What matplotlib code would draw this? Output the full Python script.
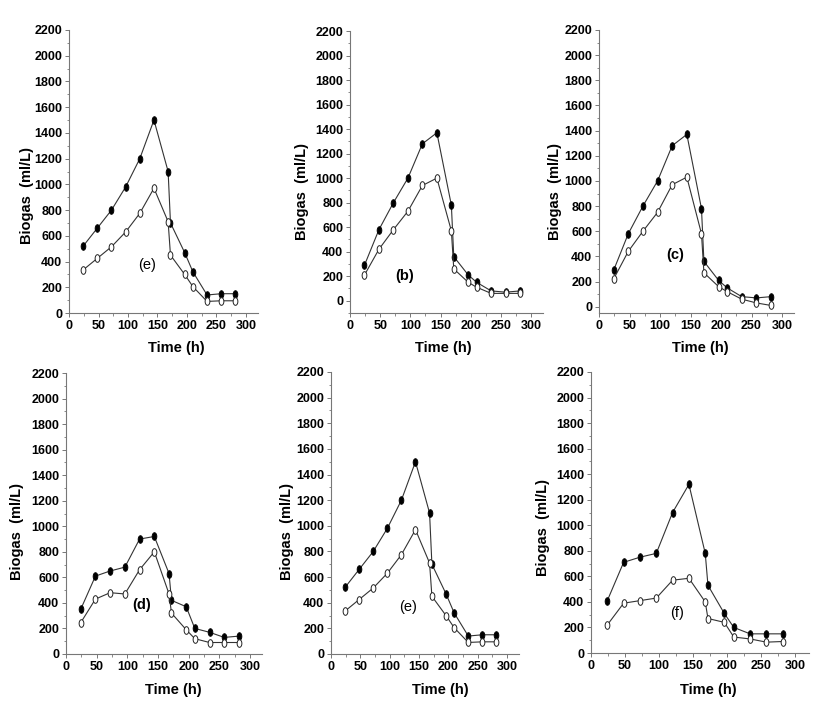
import numpy as np
import matplotlib.pyplot as plt
from matplotlib.path import Path
from matplotlib.ticker import MultipleLocator

plt.rcParams['font.family'] = ['Liberation Sans', 'DejaVu Sans']

# sampling times (h)
time_h = [24, 48, 72, 96, 120, 144, 168, 172, 196, 210, 234, 258, 282]

# biogas (ml/L), filled = closed circles, empty = open circles
e_filled = [520, 660, 800, 980, 1200, 1500, 1100, 700, 470, 320, 140, 150, 150]
e_open = [335, 425, 515, 630, 775, 970, 710, 450, 300, 205, 90, 95, 95]

b_filled = [290, 580, 800, 1000, 1280, 1370, 780, 360, 210, 150, 80, 70, 80]
b_open = [210, 420, 580, 730, 940, 1000, 570, 260, 150, 110, 60, 60, 60]

c_filled = [290, 580, 800, 1000, 1280, 1370, 780, 360, 210, 150, 80, 70, 80]
c_open = [220, 440, 600, 750, 970, 1030, 580, 270, 160, 120, 60, 30, 10]

d_filled = [350, 610, 650, 680, 900, 920, 630, 420, 370, 200, 170, 130, 140]
d_open = [245, 430, 480, 470, 660, 800, 470, 320, 190, 120, 90, 90, 90]

f_filled = [410, 710, 750, 780, 1100, 1320, 780, 530, 310, 200, 150, 150, 150]
f_open = [220, 390, 410, 430, 570, 585, 400, 270, 240, 125, 110, 85, 90]

panels = [
    # label, filled, open, ylim bottom, label xy, label bold
    ("(e)", e_filled, e_open, 0, (132, 370), False),
    ("(b)", b_filled, b_open, -100, (91, 200), True),
    ("(c)", c_filled, c_open, -50, (125, 410), True),
    ("(d)", d_filled, d_open, 0, (124, 380), True),
    ("(e)", e_filled, e_open, 0, (131, 365), False),
    ("(f)", f_filled, f_open, 0, (127, 310), False),
]

# axes boxes in pixels: x of 0, x of 300, y top, y bottom
boxes = [
    (69, 246, 30, 313),
    (350, 531, 31, 313),
    (599, 782, 30, 313),
    (66, 250, 373, 654),
    (331, 507, 372, 654),
    (591, 795, 372, 653),
]
ylab_pos = [(27, 196), (302, 191), (555, 192), (17, 531), (287, 531), (543, 527)]
xlab_pos = [(176, 348), (443, 348), (700, 348), (173, 690), (440, 690), (708, 690)]

W, H = 814, 714
fig = plt.figure(figsize=(W / 100, H / 100), dpi=100)

# tall ellipse marker
t = np.linspace(0, 2 * np.pi, 40)
ell = Path(np.column_stack([0.62 * np.cos(t), np.sin(t)]), closed=True)

for i, (lab, yf, yo, ybot, lxy, lbold) in enumerate(panels):
    x0, x300, ytop, ybottom = boxes[i]
    xmax = 320
    width = (x300 - x0) / 300 * xmax
    ax = fig.add_axes([x0 / W, 1 - ybottom / H, width / W, (ybottom - ytop) / H])
    ax.plot(time_h, yf, '-', color='#333333', lw=0.8, marker=ell, ms=5.5,
            mfc='black', mec='black', mew=0.6)
    ax.plot(time_h, yo, '-', color='#333333', lw=0.8, marker=ell, ms=5.5,
            mfc='white', mec='#222222', mew=0.7)
    ax.set_xlim(0, xmax)
    ax.set_ylim(ybot, 2200)
    ax.set_xticks(np.arange(0, 301, 50))
    ax.set_yticks(np.arange(0, 2201, 200))
    ax.xaxis.set_minor_locator(MultipleLocator(25))
    ax.yaxis.set_minor_locator(MultipleLocator(100))
    for s in ['top', 'right']:
        ax.spines[s].set_visible(False)
    for s in ['left', 'bottom']:
        ax.spines[s].set_color('#777777')
        ax.spines[s].set_linewidth(0.8)
    ax.tick_params(which='major', length=3, width=0.7, color='#777777',
                   labelsize=9, pad=2)
    ax.tick_params(which='minor', length=1.8, width=0.6, color='#777777')
    for tl in ax.get_xticklabels() + ax.get_yticklabels():
        tl.set_fontweight('bold')
    ax.text(lxy[0], lxy[1], lab, ha='center', va='center', fontsize=10.5,
            fontweight='bold' if lbold else 'normal')
    ax.patch.set_alpha(0)

    fig.text(ylab_pos[i][0] / W, 1 - ylab_pos[i][1] / H, "Biogas  (ml/L)",
             rotation=90, ha='center', va='center', fontsize=10.5, fontweight='bold')
    fig.text(xlab_pos[i][0] / W, 1 - xlab_pos[i][1] / H, "Time (h)",
             ha='center', va='center', fontsize=10.5, fontweight='bold')

fig.savefig("out.png", dpi=100)
